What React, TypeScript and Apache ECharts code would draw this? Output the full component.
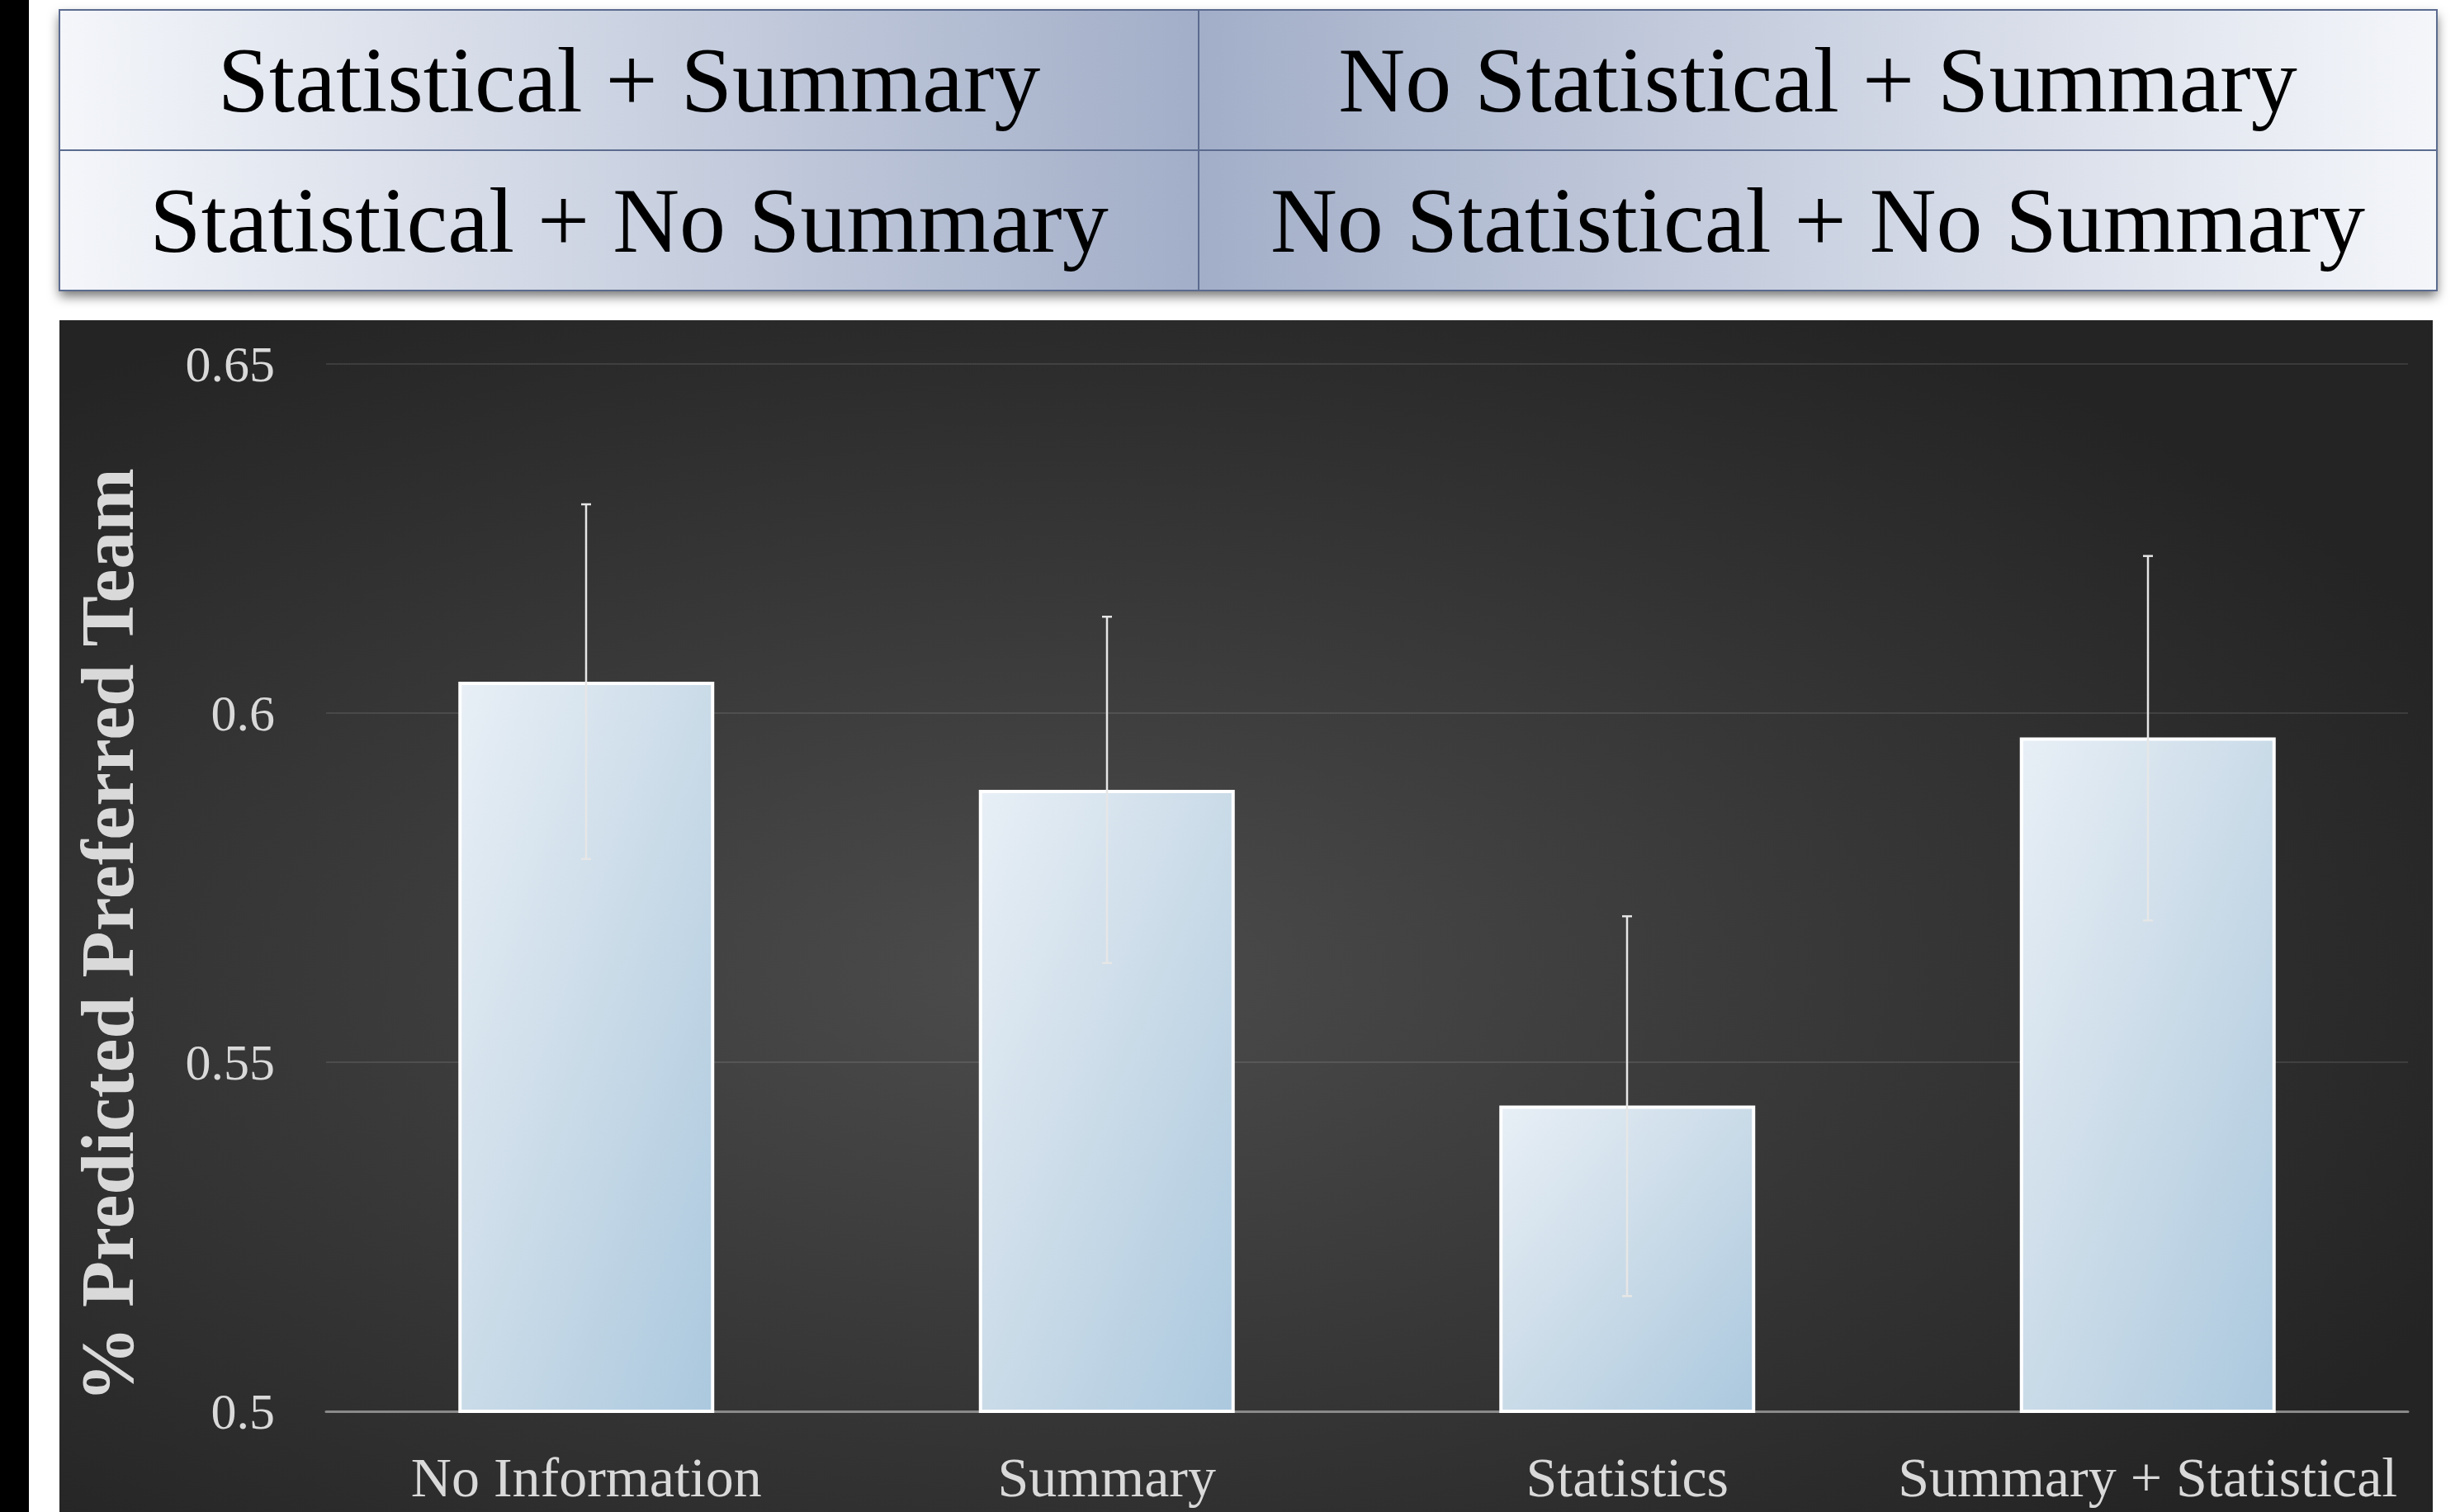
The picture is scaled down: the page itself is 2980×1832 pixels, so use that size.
import React, { useEffect, useRef } from "react";
import * as echarts from "echarts";

const categories = ["No Information", "Summary", "Statistics", "Summary + Statistical"];
const meanValues = [0.6045, 0.589, 0.5438, 0.5965];
const errLow = [0.5791, 0.5642, 0.5165, 0.5703];
const errHigh = [0.6299, 0.6138, 0.5709, 0.6225];
const yTicks = { min: 0.5, max: 0.65, interval: 0.05 };
const tableRows = [
  ["Statistical + Summary", "No Statistical + Summary"],
  ["Statistical + No Summary", "No Statistical + No Summary"],
];
const yAxisTitle = "% Predicted Preferred Team";

const SERIF = "'Liberation Serif', 'Times New Roman', serif";

export default function App() {
  const ref = useRef<HTMLDivElement | null>(null);

  useEffect(() => {
    if (!ref.current) return;
    const chart = echarts.init(ref.current, undefined, { renderer: "svg" });

    const tLeft = 72, tRight = 2952, tTop = 12, tMid = 182, tBottom = 352, tCol = 1452;
    const light = "#f4f6fa";
    const dark = "#a2aec8";

    const cellGrad = (fromLight: boolean) =>
      new echarts.graphic.LinearGradient(0, 0, 1, 0, [
        { offset: 0, color: fromLight ? light : dark },
        { offset: 1, color: fromLight ? dark : light },
      ]);

    const graphics: any[] = [
      { type: "rect", z: -20, shape: { x: 0, y: 0, width: 35, height: 1832 }, style: { fill: "#000" }, silent: true },
      {
        type: "rect", z: -20,
        shape: { x: tLeft, y: tTop, width: tRight - tLeft, height: tBottom - tTop },
        style: { fill: "#fff", shadowBlur: 14, shadowColor: "rgba(0,0,0,0.55)", shadowOffsetY: 7 },
        silent: true,
      },
    ];
    const rowsY = [[tTop, tMid], [tMid, tBottom]];
    rowsY.forEach(([y0, y1], ri) => {
      graphics.push({
        type: "rect", z: -19,
        shape: { x: tLeft, y: y0, width: tCol - tLeft, height: y1 - y0 },
        style: { fill: cellGrad(true) }, silent: true,
      });
      graphics.push({
        type: "rect", z: -19,
        shape: { x: tCol, y: y0, width: tRight - tCol, height: y1 - y0 },
        style: { fill: cellGrad(false) }, silent: true,
      });
      graphics.push({
        type: "text", z: -17,
        x: (tLeft + tCol) / 2, y: (y0 + y1) / 2,
        style: { text: tableRows[ri][0], fontSize: 112, fontFamily: SERIF, fill: "#000", align: "center", verticalAlign: "middle" },
        silent: true,
      });
      graphics.push({
        type: "text", z: -17,
        x: (tCol + tRight) / 2, y: (y0 + y1) / 2,
        style: { text: tableRows[ri][1], fontSize: 112, fontFamily: SERIF, fill: "#000", align: "center", verticalAlign: "middle" },
        silent: true,
      });
    });
    graphics.push(
      {
        type: "rect", z: -18,
        shape: { x: tLeft, y: tTop, width: tRight - tLeft, height: tBottom - tTop },
        style: { fill: "none", stroke: "#5b6b8f", lineWidth: 2 }, silent: true,
      },
      { type: "line", z: -18, shape: { x1: tLeft, y1: tMid, x2: tRight, y2: tMid }, style: { stroke: "#5b6b8f", lineWidth: 2 }, silent: true },
      { type: "line", z: -18, shape: { x1: tCol, y1: tTop, x2: tCol, y2: tBottom }, style: { stroke: "#5b6b8f", lineWidth: 2 }, silent: true },
      {
        type: "rect", z: -20,
        shape: { x: 72, y: 388, width: 2875, height: 1444 },
        style: {
          fill: new echarts.graphic.RadialGradient(0.42, 0.55, 0.65, [
            { offset: 0, color: "#4c4c4c" },
            { offset: 1, color: "#242424" },
          ]),
        },
        silent: true,
      },
      {
        type: "text", z: 1,
        x: 130, y: 1133,
        rotation: Math.PI / 2,
        style: {
          text: yAxisTitle, fontSize: 92, fontWeight: "bold", fontFamily: SERIF,
          fill: "#d9d9d9", align: "center", verticalAlign: "middle",
        },
        silent: true,
      }
    );

    const errData = categories.map((_, i) => [i, errLow[i], errHigh[i]]);

    chart.setOption({
      animation: false,
      backgroundColor: "transparent",
      graphic: graphics,
      grid: { left: 395, right: 63, top: 441, bottom: 122, containLabel: false },
      xAxis: {
        type: "category",
        data: categories,
        axisLine: { show: true, lineStyle: { color: "#8a8a8a", width: 3 } },
        axisTick: { show: false },
        axisLabel: { color: "#d9d9d9", fontSize: 68, fontFamily: SERIF, margin: 46, interval: 0 },
        splitLine: { show: false },
      },
      yAxis: {
        type: "value",
        min: yTicks.min,
        max: yTicks.max,
        interval: yTicks.interval,
        axisLine: { show: false },
        axisTick: { show: false },
        axisLabel: { color: "#d9d9d9", fontSize: 62, fontFamily: SERIF, margin: 62 },
        splitLine: { lineStyle: { color: "rgba(255,255,255,0.1)", width: 2 } },
      },
      series: [
        {
          type: "bar",
          data: meanValues,
          barWidth: 310,
          z: 2,
          itemStyle: {
            color: new echarts.graphic.LinearGradient(0, 0, 1, 1, [
              { offset: 0, color: "#e8eff6" },
              { offset: 0.5, color: "#cadbe8" },
              { offset: 1, color: "#abc8de" },
            ]),
            borderColor: "#ffffff",
            borderWidth: 4,
          },
        },
        {
          type: "custom",
          z: 5,
          data: errData,
          renderItem: (params: any, api: any) => {
            const idx = api.value(0);
            const lo = api.coord([idx, api.value(1)]);
            const hi = api.coord([idx, api.value(2)]);
            const x = Math.round(lo[0]);
            const cap = 6;
            const style = { stroke: "#e6e6e6", lineWidth: 2.5 };
            return {
              type: "group",
              children: [
                { type: "line", shape: { x1: x, y1: hi[1], x2: x, y2: lo[1] }, style },
                { type: "line", shape: { x1: x - cap, y1: hi[1], x2: x + cap, y2: hi[1] }, style },
                { type: "line", shape: { x1: x - cap, y1: lo[1], x2: x + cap, y2: lo[1] }, style },
              ],
            };
          },
        },
      ],
    });

    return () => {
      chart.dispose();
    };
  }, []);

  return (
    <div
      ref={ref}
      style={{ position: "absolute", left: 0, top: 0, width: 2980, height: 1832, background: "#fff" }}
    />
  );
}
